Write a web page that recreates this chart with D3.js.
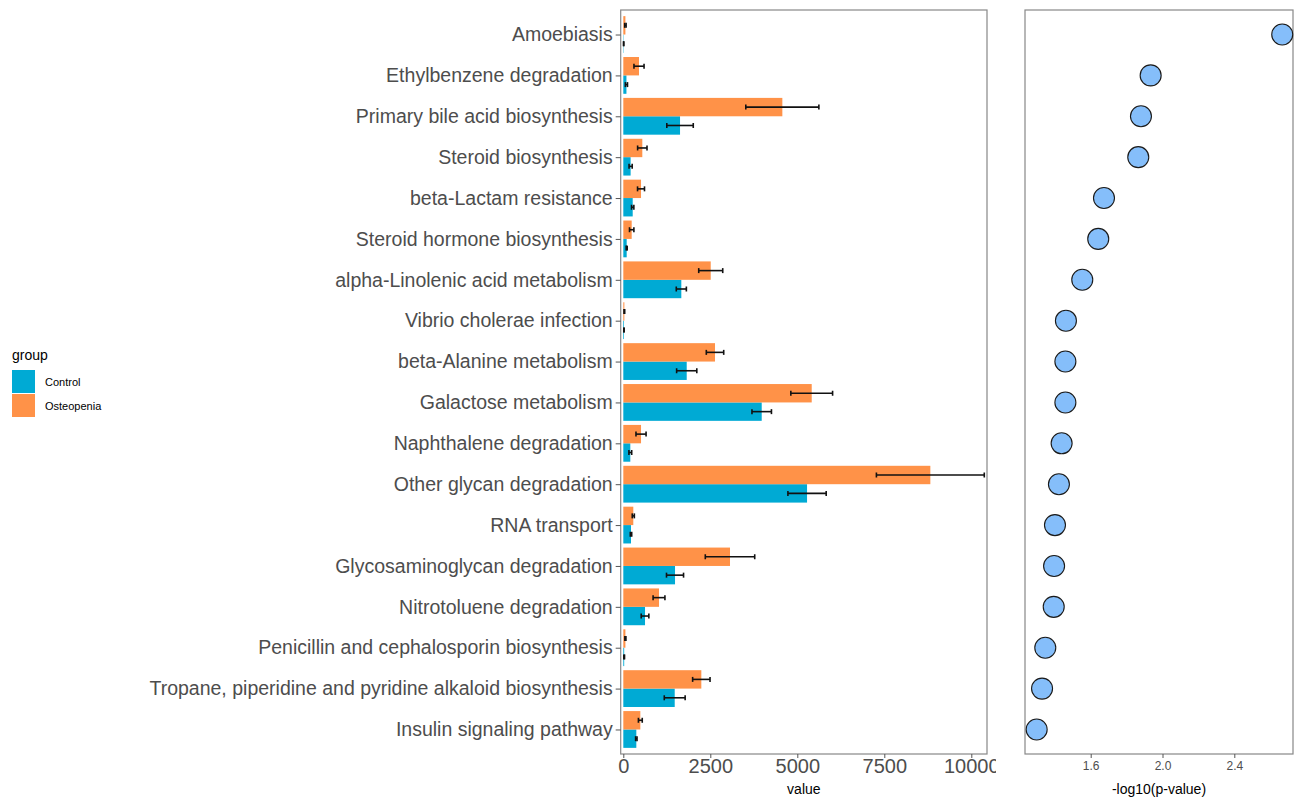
<!DOCTYPE html>
<html>
<head>
<meta charset="utf-8">
<script src="https://cdn.jsdelivr.net/npm/d3@7"></script>
<style>
  body { margin: 0; background: #fff; }
  text { font-family: "Liberation Sans", Arial, sans-serif; }
</style>
</head>
<body>
<svg id="chart" width="1298" height="798"></svg>
<script>
const pathways = [
	'Amoebiasis', 'Ethylbenzene degradation', 'Primary bile acid biosynthesis',
	'Steroid biosynthesis', 'beta-Lactam resistance', 'Steroid hormone biosynthesis',
	'alpha-Linolenic acid metabolism', 'Vibrio cholerae infection', 'beta-Alanine metabolism',
	'Galactose metabolism', 'Naphthalene degradation', 'Other glycan degradation',
	'RNA transport', 'Glycosaminoglycan degradation', 'Nitrotoluene degradation',
	'Penicillin and cephalosporin biosynthesis',
	'Tropane, piperidine and pyridine alkaloid biosynthesis', 'Insulin signaling pathway'
]
const control = [10, 90, 1630, 210, 270, 97, 1667, 20, 1822, 3977, 201, 5280, 221, 1486, 624, 25, 1477, 374]
const controlErr = [5, 30, 380, 45, 33, 15, 145, 5, 290, 280, 40, 550, 20, 245, 110, 10, 300, 20]
const osteopenia = [60, 451, 4570, 546, 509, 241, 2512, 30, 2635, 5414, 509, 8823, 287, 3066, 1026, 60, 2242, 489]
const osteopeniaErr = [20, 145, 1050, 135, 100, 63, 345, 10, 250, 600, 145, 1550, 30, 710, 170, 15, 250, 55]
const negLogP = [2.667, 1.934, 1.880, 1.865, 1.674, 1.642, 1.553, 1.462, 1.459, 1.459, 1.438, 1.423, 1.401, 1.396, 1.394, 1.347, 1.329, 1.299]
const groups = ['Control', 'Osteopenia']
const valueTicks = [0, 2500, 5000, 7500, 10000]
const pTicks = [1.6, 2.0, 2.4]

const colors = { Control: '#00AAD4', Osteopenia: '#FF9248' }
const svg = d3.select('#chart')

// layout
const bar = { left: 620.7, right: 987, top: 10, bottom: 754 }
const dot = { left: 1025, right: 1293, top: 10, bottom: 754 }

const y = d3.scalePoint().domain(pathways).range([bar.top, bar.bottom]).padding(0.6)
const step = y.step()
const x = d3.scaleLinear().domain([-75, 10451]).range([bar.left, bar.right])
const xp = d3.scaleLinear().domain([1.234, 2.727]).range([dot.left, dot.right])

const rows = pathways.map((p, i) => ({
	p,
	Control: control[i], ControlErr: controlErr[i],
	Osteopenia: osteopenia[i], OsteopeniaErr: osteopeniaErr[i],
	lp: negLogP[i]
}))

// bars (orange above, blue below)
const barH = step * 0.45
const offset = { Osteopenia: -barH, Control: 0 }
groups.forEach(g => {
	svg.append('g')
		.selectAll('rect')
		.data(rows)
		.join('rect')
		.attr('x', x(0))
		.attr('y', d => y(d.p) + offset[g])
		.attr('width', d => x(d[g]) - x(0))
		.attr('height', barH)
		.attr('fill', colors[g])
})

// error bars
groups.forEach(g => {
	const eg = svg.append('g').attr('stroke', '#111').attr('stroke-width', 1.6)
	rows.forEach(d => {
		const cy = y(d.p) + offset[g] + barH / 2
		const x0 = x(d[g] - d[g + 'Err']), x1 = x(d[g] + d[g + 'Err'])
		eg.append('line').attr('x1', x0).attr('x2', x1).attr('y1', cy).attr('y2', cy)
		eg.append('line').attr('x1', x0).attr('x2', x0).attr('y1', cy - 2.5).attr('y2', cy + 2.5)
		eg.append('line').attr('x1', x1).attr('x2', x1).attr('y1', cy - 2.5).attr('y2', cy + 2.5)
	})
})

// bar panel border
svg.append('rect')
	.attr('x', bar.left).attr('y', bar.top)
	.attr('width', bar.right - bar.left).attr('height', bar.bottom - bar.top)
	.attr('fill', 'none').attr('stroke', '#888').attr('stroke-width', 1.2)

// y axis
const yAxis = svg.append('g')
	.attr('transform', `translate(${bar.left},0)`)
	.call(d3.axisLeft(y).tickSize(5).tickPadding(3))
yAxis.select('.domain').remove()
yAxis.selectAll('.tick line').attr('stroke', '#555')
yAxis.selectAll('.tick text').attr('fill', '#4d4d4d').style('font-size', '19.5px')

// x axis (value) clipped like the original
svg.append('clipPath').attr('id', 'xclip')
	.append('rect').attr('x', 0).attr('y', 0).attr('width', 996).attr('height', 798)
const xAxis = svg.append('g')
	.attr('clip-path', 'url(#xclip)')
	.append('g')
	.attr('transform', `translate(0,${bar.bottom})`)
	.call(d3.axisBottom(x).tickValues(valueTicks).tickFormat(d3.format('d')).tickSize(4).tickPadding(1))
xAxis.select('.domain').remove()
xAxis.selectAll('.tick line').attr('stroke', '#555')
xAxis.selectAll('.tick text').attr('fill', '#4d4d4d').style('font-size', '20px')

svg.append('text')
	.attr('x', (bar.left + bar.right) / 2).attr('y', 794)
	.attr('text-anchor', 'middle').style('font-size', '14px')
	.text('value')

// dot panel
svg.append('rect')
	.attr('x', dot.left).attr('y', dot.top)
	.attr('width', dot.right - dot.left).attr('height', dot.bottom - dot.top)
	.attr('fill', 'none').attr('stroke', '#888').attr('stroke-width', 1.2)

svg.append('g')
	.selectAll('circle')
	.data(rows)
	.join('circle')
	.attr('cx', d => xp(d.lp))
	.attr('cy', d => y(d.p))
	.attr('r', 10.5)
	.attr('fill', '#85BEFA')
	.attr('stroke', '#1a1a1a')
	.attr('stroke-width', 1.1)

const pAxis = svg.append('g')
	.attr('transform', `translate(0,${dot.bottom})`)
	.call(d3.axisBottom(xp).tickValues(pTicks).tickFormat(d3.format('.1f')).tickSize(4).tickPadding(3))
pAxis.select('.domain').remove()
pAxis.selectAll('.tick line').attr('stroke', '#555')
pAxis.selectAll('.tick text').attr('fill', '#4d4d4d').style('font-size', '12px')

svg.append('text')
	.attr('x', (dot.left + dot.right) / 2).attr('y', 794)
	.attr('text-anchor', 'middle').style('font-size', '14px')
	.text('-log10(p-value)')

// legend
const leg = svg.append('g').attr('transform', 'translate(12,0)')
leg.append('text').attr('x', 0).attr('y', 360).style('font-size', '14px').text('group')
groups.forEach((g, i) => {
	leg.append('rect')
		.attr('x', 0).attr('y', 370 + i * 24)
		.attr('width', 23).attr('height', 23)
		.attr('fill', colors[g])
	leg.append('text')
		.attr('x', 33).attr('y', 370 + i * 24 + 16)
		.style('font-size', '11px')
		.text(g)
})
</script>
</body>
</html>
